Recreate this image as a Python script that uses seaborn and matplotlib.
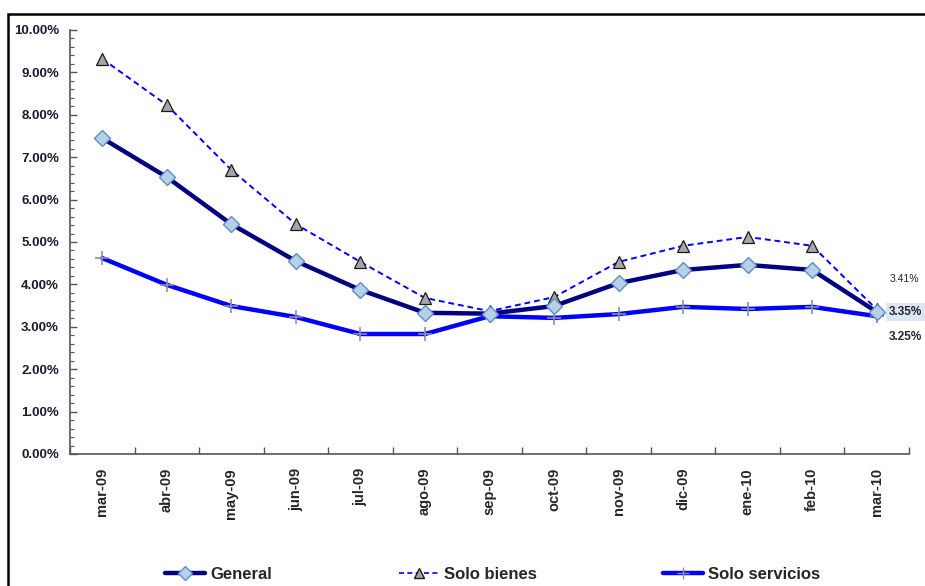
import numpy as np
import pandas as pd
import matplotlib
matplotlib.use("Agg")
import matplotlib.pyplot as plt
import seaborn as sns
from matplotlib.lines import Line2D
from matplotlib.patches import Rectangle
from matplotlib.ticker import FuncFormatter, MultipleLocator, FixedLocator

# ==========================================
# DATOS
# ==========================================

meses = ['mar-09', 'abr-09', 'may-09', 'jun-09', 'jul-09', 'ago-09', 'sep-09',
         'oct-09', 'nov-09', 'dic-09', 'ene-10', 'feb-10', 'mar-10']

general = [7.45, 6.53, 5.42, 4.55, 3.87, 3.33, 3.31, 3.49, 4.03, 4.34, 4.46, 4.34, 3.35]
solo_bienes = [9.32, 8.23, 6.70, 5.42, 4.53, 3.68, 3.37, 3.70, 4.53, 4.91, 5.12, 4.91, 3.41]
solo_servicios = [4.62, 3.99, 3.49, 3.23, 2.83, 2.83, 3.25, 3.21, 3.30, 3.47, 3.42, 3.47, 3.25]

etiquetas_final = ['3.41%', '3.35%', '3.25%']

# ==========================================
# GRAFICO
# ==========================================

sns.set_theme(style="white")
plt.rcParams['font.family'] = ['Liberation Sans', 'DejaVu Sans']

fig = plt.figure(figsize=(9.25, 5.86), dpi=100)
ax = fig.add_axes([70 / 925, 1 - 454 / 586, (909 - 70) / 925, (454 - 30) / 586])

# marco de la figura
fig.patches.append(Rectangle((8 / 925, -0.05), 1.1, 1 - 14 / 586 + 0.05,
                             transform=fig.transFigure, fill=False,
                             edgecolor='black', linewidth=1.8, zorder=10))

# Solo bienes
sns.lineplot(x=meses, y=solo_bienes, sort=False, ax=ax, color='#0000ff',
             linewidth=1.4, linestyle=(0, (3, 2)), marker='^', markersize=8,
             markerfacecolor='#a6a6a6', markeredgecolor='#1a1a1a',
             markeredgewidth=0.9, zorder=3)

# Solo servicios
sns.lineplot(x=meses, y=solo_servicios, sort=False, ax=ax, color='#0000ff',
             linewidth=3.2, marker='+', markersize=10,
             markeredgecolor='#8c8caa', markeredgewidth=1.2, zorder=2)

# General
sns.lineplot(x=meses, y=general, sort=False, ax=ax, color='#000080',
             linewidth=3.2, marker='D', markersize=8,
             markerfacecolor='#b8cfe8', markeredgecolor='#5f8ec4',
             markeredgewidth=1.0, zorder=4)

# ejes
ax.set_xlim(-0.5, len(meses) - 0.5)
ax.set_ylim(0, 10)
ax.yaxis.set_major_locator(MultipleLocator(1))
ax.yaxis.set_minor_locator(MultipleLocator(0.2))
ax.yaxis.set_major_formatter(FuncFormatter(lambda v, p: f'{v:.2f}%'))
ax.xaxis.set_minor_locator(FixedLocator(np.arange(-0.5, len(meses), 1.0)))

for s in ['top', 'right']:
    ax.spines[s].set_visible(False)
for s in ['left', 'bottom']:
    ax.spines[s].set_color('#555555')
    ax.spines[s].set_linewidth(1.2)

ax.tick_params(axis='y', which='major', direction='in', length=5, width=1,
               color='#555555', left=True, labelsize=9.5, labelcolor='#1a1a33', pad=8)
ax.tick_params(axis='y', which='minor', direction='in', length=3, width=0.8,
               color='#555555', left=True)
ax.tick_params(axis='x', which='major', length=0, labelsize=10.5, pad=10)
ax.tick_params(axis='x', which='minor', direction='in', length=5, width=1,
               color='#555555', bottom=True)
for lbl in ax.get_yticklabels():
    lbl.set_fontweight('bold')
for lbl in ax.get_xticklabels():
    lbl.set_fontweight('bold')
    lbl.set_rotation(90)

ax.set_xlabel('')
ax.set_ylabel('')
ax.grid(False)

# etiquetas finales
ult = len(meses) - 1
ax.annotate(etiquetas_final[0], (ult, solo_bienes[-1]), xytext=(9, 22),
            textcoords='offset points', fontsize=7.5, va='center', ha='left',
            annotation_clip=False)
ax.annotate(etiquetas_final[1], (ult, general[-1]), xytext=(9, 0),
            textcoords='offset points', fontsize=8.5, fontweight='bold',
            va='center', ha='left', annotation_clip=False,
            bbox=dict(boxstyle='square,pad=0.25', facecolor='#dce6f2',
                      edgecolor='none'))
ax.annotate(etiquetas_final[2], (ult, solo_servicios[-1]), xytext=(9, -15),
            textcoords='offset points', fontsize=8.5, fontweight='bold',
            va='center', ha='left', annotation_clip=False)

# leyenda
handles = [
    Line2D([], [], color='#000080', linewidth=3.2, marker='D', markersize=7,
           markerfacecolor='#b8cfe8', markeredgecolor='#5f8ec4'),
    Line2D([], [], color='#0000ff', linewidth=1.2, linestyle=(0, (3, 2)),
           marker='^', markersize=7, markerfacecolor='#a6a6a6',
           markeredgecolor='#1a1a1a'),
    Line2D([], [], color='#0000ff', linewidth=3.2, marker='+', markersize=9,
           markeredgecolor='#8c8caa'),
]
if ax.get_legend() is not None:
    ax.get_legend().remove()
fig.legend(handles, ['General', 'Solo bienes', 'Solo servicios'],
           loc='center', bbox_to_anchor=(0.533, 0.02), ncol=3, frameon=False,
           prop={'weight': 'bold', 'size': 12}, columnspacing=7.6,
           handlelength=2.4, handletextpad=0.3)

fig.savefig('out.png', dpi=100)
